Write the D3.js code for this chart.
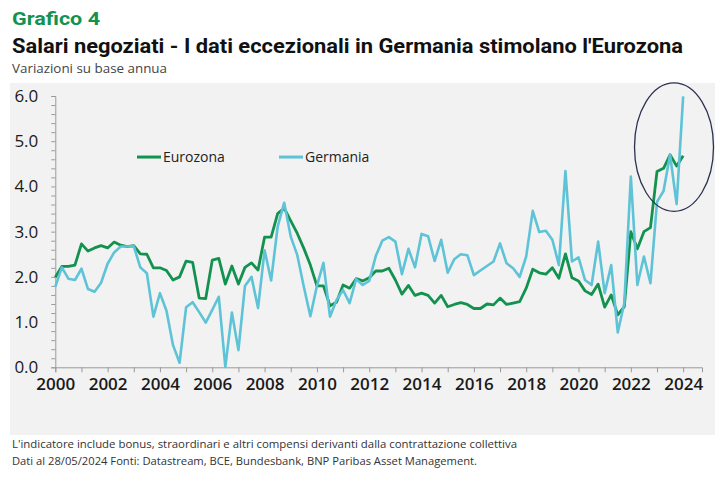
<!DOCTYPE html>
<html>
<head>
<meta charset="utf-8">
<script src="https://cdn.jsdelivr.net/npm/d3@7"></script>
<style>
  body { margin: 0; background: #fff; }
  svg text { font-family: "Open Sans", "Noto Sans", sans-serif; }
</style>
</head>
<body>
<div class="container"></div>
<script>
// quarterly data, first point 2000 Q1, last point 2024 Q1
var startYear = 2000;
var seriesNames = ["Eurozona", "Germania"];

var eurozona = [
    1.99, 2.23, 2.23, 2.26,   // 2000
    2.73, 2.57, 2.64, 2.69,   // 2001
    2.64, 2.77, 2.70, 2.67,   // 2002
    2.69, 2.51, 2.50, 2.20,   // 2003
    2.20, 2.14, 1.93, 2.00,   // 2004
    2.35, 2.32, 1.53, 1.52,   // 2005
    2.37, 2.41, 1.84, 2.24,   // 2006
    1.84, 2.21, 2.31, 2.15,   // 2007
    2.88, 2.88, 3.40, 3.52,   // 2008
    3.24, 2.96, 2.63, 2.26,   // 2009
    1.80, 1.80, 1.36, 1.44,   // 2010
    1.82, 1.75, 1.96, 1.91,   // 2011
    1.98, 2.13, 2.13, 2.19,   // 2012
    1.93, 1.62, 1.81, 1.59,   // 2013
    1.64, 1.59, 1.42, 1.59,   // 2014
    1.34, 1.39, 1.43, 1.39,   // 2015
    1.30, 1.30, 1.40, 1.38,   // 2016
    1.53, 1.39, 1.42, 1.45,   // 2017
    1.75, 2.17, 2.09, 2.06,   // 2018
    2.20, 1.97, 2.51, 1.98,   // 2019
    1.91, 1.69, 1.61, 1.84,   // 2020
    1.33, 1.60, 1.16, 1.34,   // 2021
    3.00, 2.62, 3.00, 3.09,   // 2022
    4.33, 4.40, 4.70, 4.45,   // 2023
    4.68                      // 2024
];

var germania = [
    1.78, 2.21, 1.96, 1.93,   // 2000
    2.18, 1.73, 1.67, 1.87,   // 2001
    2.29, 2.54, 2.67, 2.67,   // 2002
    2.68, 2.21, 2.08, 1.12,   // 2003
    1.64, 1.25, 0.49, 0.10,   // 2004
    1.33, 1.44, 1.22, 0.99,   // 2005
    1.27, 1.56, 0.01, 1.21,   // 2006
    0.38, 1.80, 2.00, 1.31,   // 2007
    2.59, 1.92, 3.11, 3.64,   // 2008
    2.89, 2.48, 1.78, 1.13,   // 2009
    1.80, 2.31, 1.12, 1.49,   // 2010
    1.71, 1.42, 1.95, 1.82,   // 2011
    1.91, 2.46, 2.80, 2.88,   // 2012
    2.78, 2.06, 2.62, 2.21,   // 2013
    2.95, 2.90, 2.35, 2.82,   // 2014
    2.09, 2.39, 2.50, 2.48,   // 2015
    2.04, 2.14, 2.24, 2.34,   // 2016
    2.74, 2.30, 2.19, 2.00,   // 2017
    2.45, 3.46, 2.99, 3.02,   // 2018
    2.82, 2.26, 4.34, 2.34,   // 2019
    2.43, 1.93, 1.82, 2.78,   // 2020
    1.64, 2.26, 0.77, 1.42,   // 2021
    4.22, 1.82, 2.45, 1.86,   // 2022
    3.66, 3.90, 4.70, 3.61,   // 2023
    5.99                      // 2024
];

var yearTicks = d3.range(2000, 2025);
var yearLabels = ["2000", "2002", "2004", "2006", "2008", "2010", "2012",
                  "2014", "2016", "2018", "2020", "2022", "2024"];
var yTickValues = [0, 1, 2, 3, 4, 5, 6];
var yTickLabels = ["0.0", "1.0", "2.0", "3.0", "4.0", "5.0", "6.0"];

var width = 725, height = 477;
var green = "#13924f";
var cyan = "#5ec3d7";

var svg = d3.select(".container")
    .append("svg")
    .attr("width", width)
    .attr("height", height);

// headings
svg.append("text")
    .attr("x", 12).attr("y", 25)
    .attr("fill", green)
    .style("font-family", "Roboto, sans-serif")
    .style("font-weight", "bold")
    .style("font-size", "19px")
    .attr("textLength", 88).attr("lengthAdjust", "spacingAndGlyphs")
    .text("Grafico 4");

svg.append("text")
    .attr("x", 12).attr("y", 53)
    .attr("fill", "#111")
    .style("font-family", "Roboto, sans-serif")
    .style("font-weight", "bold")
    .style("font-size", "20px")
    .attr("textLength", 671).attr("lengthAdjust", "spacingAndGlyphs")
    .text("Salari negoziati - I dati eccezionali in Germania stimolano l'Eurozona");

svg.append("text")
    .attr("x", 12).attr("y", 73)
    .attr("fill", "#444")
    .style("font-size", "13px")
    .attr("textLength", 155).attr("lengthAdjust", "spacingAndGlyphs")
    .text("Variazioni su base annua");

// grey panel behind the chart
svg.append("rect")
    .attr("x", 10).attr("y", 83)
    .attr("width", 705).attr("height", 352)
    .attr("fill", "#f2f2f2");

// scales
var x = d3.scaleLinear().domain([2000, 2024.72]).range([55.3, 702]);
var y = d3.scaleLinear().domain([0, 6]).range([367.3, 96]);

function quarterX(i) {
    return x(startYear + i / 4);
}

// y axis: minor ticks every 0.2, labels on the whole numbers
var yAxisMinor = d3.axisLeft(y)
    .tickValues(d3.range(0, 31).map(function (k) { return k / 5; }))
    .tickSize(4)
    .tickFormat("");
var gy = svg.append("g")
    .attr("transform", "translate(" + x(2000) + ",0)")
    .call(yAxisMinor);
gy.selectAll("line, path").attr("stroke", "#9a9a9a");

var yAxisLabels = d3.axisLeft(y)
    .tickValues(yTickValues)
    .tickSize(0)
    .tickPadding(17)
    .tickFormat(function (d, i) { return yTickLabels[i]; });
var gyl = svg.append("g")
    .attr("transform", "translate(" + x(2000) + ",0)")
    .call(yAxisLabels);
gyl.select(".domain").remove();
gyl.selectAll("text")
    .attr("fill", "#1a1a1a")
    .style("font-size", "17px")
    .style("font-family", "'Open Sans', sans-serif");

// x axis
var xAxis = d3.axisBottom(x)
    .tickValues(yearTicks)
    .tickSize(5)
    .tickPadding(6)
    .tickFormat(function (d) {
        var lab = String(d);
        return yearLabels.indexOf(lab) >= 0 ? lab : "";
    });
var gx = svg.append("g")
    .attr("transform", "translate(0," + y(0) + ")")
    .call(xAxis);
gx.selectAll("line, path").attr("stroke", "#9a9a9a");
gx.selectAll("text")
    .attr("fill", "#1a1a1a")
    .style("font-size", "17px")
    .style("font-weight", "600")
    .style("font-family", "'Open Sans', sans-serif");

// lines
var line = d3.line()
    .x(function (d, i) { return quarterX(i); })
    .y(function (d) { return y(d); });

svg.append("path")
    .datum(eurozona)
    .attr("fill", "none")
    .attr("stroke", green)
    .attr("stroke-width", 2.8)
    .attr("stroke-linejoin", "round")
    .attr("d", line);

svg.append("path")
    .datum(germania)
    .attr("fill", "none")
    .attr("stroke", cyan)
    .attr("stroke-width", 2.6)
    .attr("stroke-linejoin", "round")
    .attr("d", line);

// legend
var legendColors = [green, cyan];
var legendX = [137, 279];
seriesNames.forEach(function (name, i) {
    var g = svg.append("g").attr("transform", "translate(" + legendX[i] + "," + y(4.65) + ")");
    g.append("line")
        .attr("x1", 0).attr("x2", 24)
        .attr("stroke", legendColors[i])
        .attr("stroke-width", 3);
    g.append("text")
        .attr("x", 26).attr("dy", "0.35em")
        .attr("fill", "#222")
        .style("font-size", "14px")
        .text(name);
});

// highlight ellipse round the latest quarters
svg.append("ellipse")
    .attr("cx", x(2023.65))
    .attr("cy", y(4.87))
    .attr("rx", x(2025.16) - x(2023.65))
    .attr("ry", y(3.45) - y(4.87))
    .attr("fill", "none")
    .attr("stroke", "#2b3050")
    .attr("stroke-width", 1.3);

// notes
svg.append("text")
    .attr("x", 12).attr("y", 448)
    .attr("fill", "#333")
    .style("font-size", "11.5px")
    .attr("textLength", 505).attr("lengthAdjust", "spacingAndGlyphs")
    .text("L'indicatore include bonus, straordinari e altri compensi derivanti dalla contrattazione collettiva");

svg.append("text")
    .attr("x", 12).attr("y", 465)
    .attr("fill", "#333")
    .style("font-size", "11.5px")
    .attr("textLength", 465).attr("lengthAdjust", "spacingAndGlyphs")
    .text("Dati al 28/05/2024 Fonti: Datastream, BCE, Bundesbank, BNP Paribas Asset Management.");
</script>
</body>
</html>
